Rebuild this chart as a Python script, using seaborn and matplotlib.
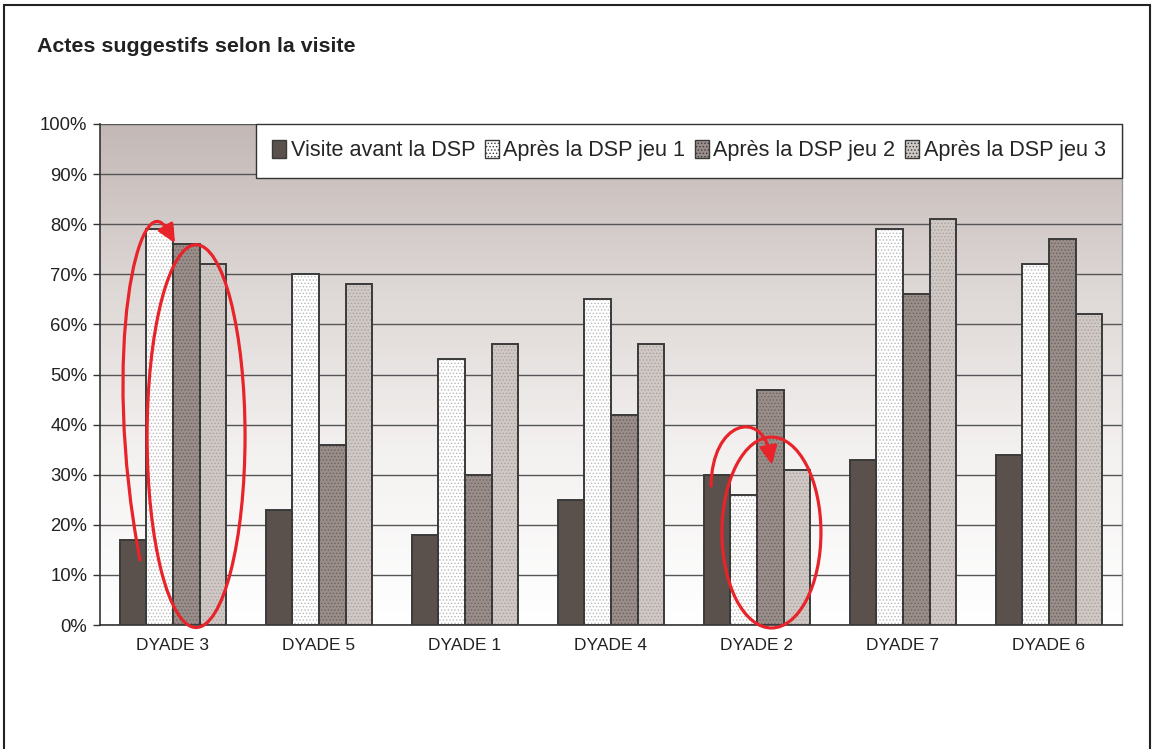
import numpy as np
import pandas as pd
import seaborn as sns
import matplotlib
matplotlib.use("Agg")
import matplotlib.pyplot as plt
from matplotlib.patches import Ellipse, PathPatch, Rectangle, Patch
from matplotlib.path import Path
from matplotlib.ticker import FuncFormatter, FixedLocator
from matplotlib.colors import LinearSegmentedColormap

categories = ["DYADE 3", "DYADE 5", "DYADE 1", "DYADE 4", "DYADE 2", "DYADE 7", "DYADE 6"]
series_names = ["Visite avant la DSP", "Après la DSP jeu 1", "Après la DSP jeu 2", "Après la DSP jeu 3"]
visite_avant = [17, 23, 18, 25, 30, 33, 34]
apres_jeu1 = [79, 70, 53, 65, 26, 79, 72]
apres_jeu2 = [76, 36, 30, 42, 47, 66, 77]
apres_jeu3 = [72, 68, 56, 56, 31, 81, 62]
yticks = [0, 10, 20, 30, 40, 50, 60, 70, 80, 90, 100]
title = "Actes suggestifs selon la visite"

sns.set_style("white")
plt.rcParams["font.family"] = ["Liberation Sans", "DejaVu Sans"]
plt.rcParams["hatch.linewidth"] = 0.6

rows = []
for name, vals in zip(series_names, [visite_avant, apres_jeu1, apres_jeu2, apres_jeu3]):
    for c, v in zip(categories, vals):
        rows.append({"cat": c, "serie": name, "val": v})
df = pd.DataFrame(rows)

fig = plt.figure(figsize=(11.56, 7.49), dpi=100)
ax = fig.add_axes([100 / 1156, 1 - 625 / 749, 1022 / 1156, 501 / 749])

face = ["#5a504c", "#ffffff", "#9a8e8b", "#d0c8c5"]
hatch_col = ["#5a504c", "#b8b8b8", "#6e6360", "#aaa29f"]
hatches = [None, ".....", ".....", "....."]
edge = "#3a3a3a"
sns.barplot(data=df, x="cat", y="val", hue="serie", order=categories,
            hue_order=series_names, width=0.73, ax=ax, legend=False,
            palette=face, saturation=1, zorder=3)

for cont, fc, hc, h in zip(ax.containers, face, hatch_col, hatches):
    for bar in cont:
        bar.set_facecolor(fc)
        bar.set_edgecolor(hc)
        bar.set_linewidth(0)
        if h:
            bar.set_hatch(h)
        outline = Rectangle((bar.get_x(), bar.get_y()), bar.get_width(), bar.get_height(),
                            fill=False, edgecolor=edge, linewidth=1.4, zorder=4)
        ax.add_patch(outline)

# gradient background
grad = np.linspace(0, 1, 256).reshape(-1, 1)
cmap = LinearSegmentedColormap.from_list("bg", ["#ffffff", "#f4f2f1", "#ded8d6", "#c3b8b5"])
ax.imshow(grad, cmap=cmap, origin="lower", aspect="auto",
          extent=(-0.5, len(categories) - 0.5, 0, 100), zorder=0)

ax.set_xlim(-0.5, len(categories) - 0.5)
ax.set_ylim(0, 100)
ax.set_yticks(yticks)
ax.yaxis.set_major_formatter(FuncFormatter(lambda v, p: f"{int(v)}%"))
ax.grid(axis="y", color="#555555", linewidth=1.0)
for gl in ax.get_ygridlines():
    gl.set_zorder(1)

ax.set_xlabel("")
ax.set_ylabel("")
ax.tick_params(axis="x", which="major", length=0, labelsize=12.5, pad=9, labelcolor="#222222")
ax.xaxis.set_minor_locator(FixedLocator(np.arange(0.5, len(categories), 1)))
ax.tick_params(axis="x", which="minor", length=6, width=1, color="#333333", direction="out")
ax.tick_params(axis="y", length=5, width=1, color="#333333", labelsize=13.3, pad=4,
               direction="out", left=True, labelcolor="#222222")

ax.spines["top"].set_visible(False)
ax.spines["right"].set_color("#999999")
ax.spines["right"].set_linewidth(1)
for s in ["left", "bottom"]:
    ax.spines[s].set_color("#333333")
    ax.spines[s].set_linewidth(1.2)

# legend
lh = []
for fc, hc, h in zip(face, hatch_col, hatches):
    lh.append(Patch(facecolor=fc, edgecolor=edge, hatch=h, linewidth=1.0))
leg = ax.legend(lh, series_names, loc="upper right", bbox_to_anchor=(1.0, 1.0),
                ncol=4, frameon=True, fancybox=False, fontsize=15.6, framealpha=1,
                handlelength=0.65, handleheight=0.85, handletextpad=0.2,
                columnspacing=0.45, borderpad=0.75, borderaxespad=0.0)
leg.get_frame().set_edgecolor("#333333")
leg.get_frame().set_facecolor("white")
leg.get_frame().set_linewidth(1.0)
leg.set_zorder(5)

# title
fig.text(37 / 1156, 1 - 47 / 749, title, fontsize=15.4, fontweight="bold",
         color="#222222", va="center", ha="left")

# outer frame
fig.patches.append(Rectangle((4 / 1156, -0.02), 1146 / 1156, 1.02 - 5 / 749,
                             transform=fig.transFigure, fill=False,
                             edgecolor="#222222", linewidth=1.5))

# red annotations
red = "#e8242a"
lw = 2.3
ax.add_patch(Ellipse((0.158, 37.7), 0.671, 76.4, fill=False, edgecolor=red,
                     linewidth=lw, zorder=6, clip_on=False))
ax.add_patch(Ellipse((4.099, 18.46), 0.678, 38.1, fill=False, edgecolor=red,
                     linewidth=lw, zorder=6, clip_on=False))

codes = [Path.MOVETO, Path.CURVE4, Path.CURVE4, Path.CURVE4]
arrows = [
    [(-0.226, 12.97), (-0.500, 54.9), (-0.230, 88.5), (0.014, 76.2)],
    [(3.685, 27.74), (3.692, 40.9), (4.030, 43.0), (4.103, 31.94)],
]
for verts in arrows:
    (cx, cy), (ex, ey) = verts[2], verts[3]
    bx, by = ex - 0.22 * (ex - cx), ey - 0.22 * (ey - cy)
    curve = [verts[0], verts[1], verts[2], (bx, by)]
    ax.add_patch(PathPatch(Path(curve, codes), fill=False, edgecolor=red,
                           linewidth=lw, zorder=7, clip_on=False, capstyle="round"))
    ax.annotate("", xy=(ex, ey), xytext=(bx, by), zorder=8,
                arrowprops=dict(arrowstyle="-|>,head_length=0.55,head_width=0.26",
                                mutation_scale=20, color=red, lw=lw,
                                shrinkA=0, shrinkB=0))

fig.savefig("out.png", dpi=100)
